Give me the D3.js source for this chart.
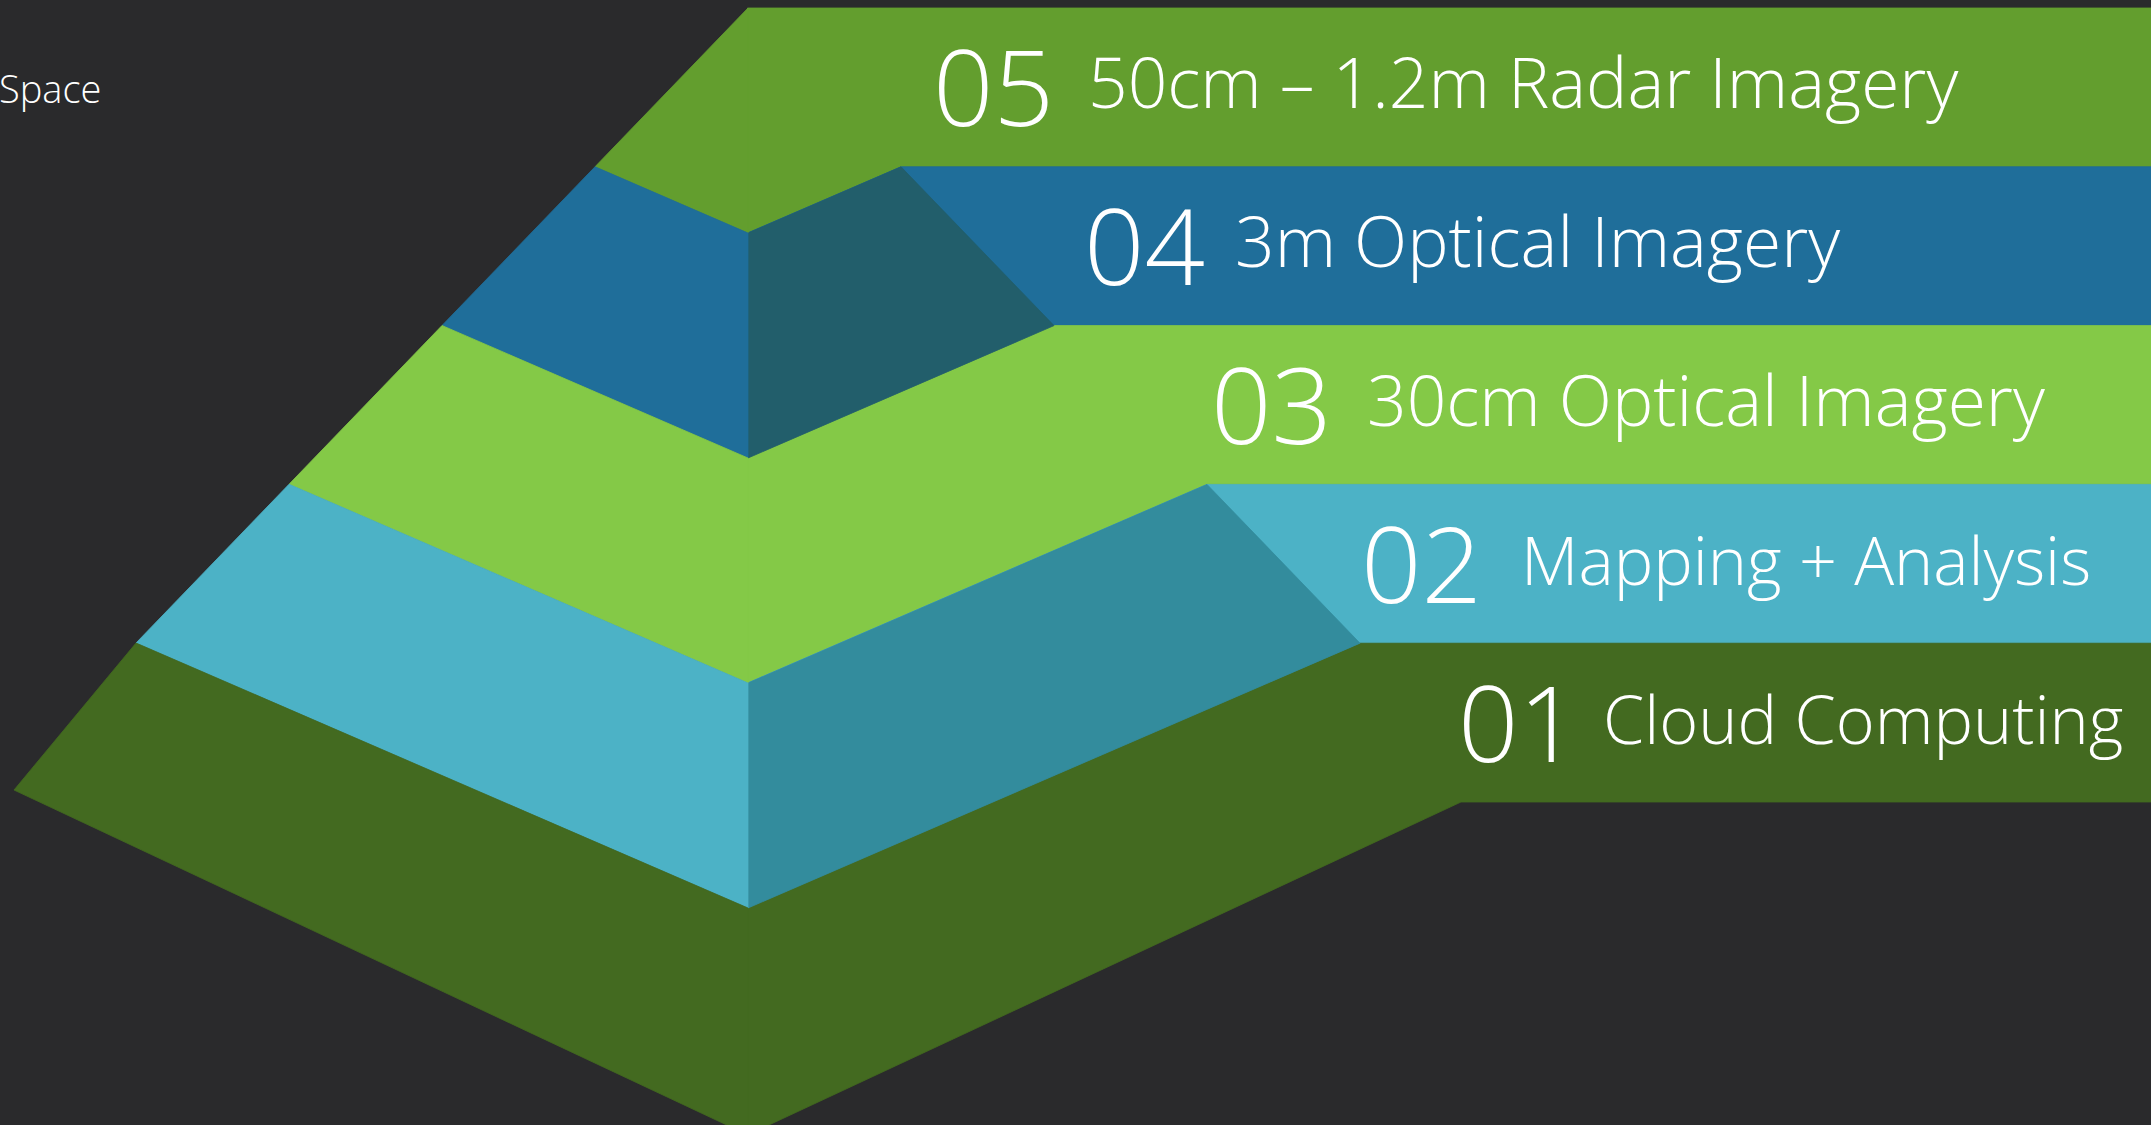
<!DOCTYPE html>
<html>
<head>
<meta charset="utf-8">
<script src="https://cdn.jsdelivr.net/npm/d3@7"></script>
<style>
html,body{margin:0;padding:0;background:#2a2a2c;overflow:hidden;}
svg{display:block;}
</style>
</head>
<body>
<svg id="chart"></svg>
<script>
// ---------- data ----------
const tierNumbers = ["05", "04", "03", "02", "01"];
const tierLabels = ["50cm – 1.2m Radar Imagery", "3m Optical Imagery", "30cm Optical Imagery", "Mapping + Analysis", "Cloud Computing"];
const sideTitle = "Space";

// ---------- styles ----------
const faceColors  = ["#639e2e", "#1f6e9a", "#84c947", "#4cb2c6", "#436a20"];
const shadeColors = ["#639e2e", "#225e6b", "#84c947", "#338c9d", "#436a20"];
const labelSizes  = [69.5, 69.5, 69.5, 66.5, 66.5];
const bgColor = "#2a2a2c";

// ---------- layout ----------
const W = 2151, H = 1125;
const cx = 748;
const numberInset = [32, 30, 4, 1, -3];
const labelInset  = [187, 181, 160, 161, 142];

const svg = d3.select("#chart").attr("width", W).attr("height", H);
svg.append("rect").attr("width", W).attr("height", H).attr("fill", bgColor);

const n = tierNumbers.length;
const bandY = d3.scaleLinear().domain([0, n]).range([8, 802]);
const leftHalf = d3.scaleLinear().domain([0, n - 1, n]).range([0, 612, 734]);
const rightHalf = d3.scaleLinear().domain([0, n - 1, n]).range([0, 612, 713]);
const leftY = d3.scaleLinear().domain([0, n - 1, n]).range([8, 643, 790]);
const depth = d3.scaleLinear().domain([0, n - 1, n]).range([0, 265, 345]);
const frontY = j => leftY(j) + depth(j);

const tiers = tierNumbers.map((num, i) => ({num, label: tierLabels[i], i}));
const line = d3.line();
const g = svg.append("g");

// band + right face as one shape in the band colour
g.selectAll("path.band").data(tiers).join("path")
  .attr("class", "band")
  .attr("d", d => line([
    [cx - 0.5, frontY(d.i)], [cx + rightHalf(d.i), bandY(d.i)], [W + 2, bandY(d.i)],
    [W + 2, bandY(d.i + 1)], [cx + rightHalf(d.i + 1), bandY(d.i + 1)], [cx - 0.5, frontY(d.i + 1)]
  ]) + "Z")
  .attr("fill", d => faceColors[d.i]).attr("stroke", d => faceColors[d.i]).attr("stroke-width", 0.8);

// shaded right faces where the shade differs
g.selectAll("path.right").data(tiers.filter(d => shadeColors[d.i] !== faceColors[d.i])).join("path")
  .attr("class", "right")
  .attr("d", d => line([
    [cx, frontY(d.i)], [cx + rightHalf(d.i), bandY(d.i)],
    [cx + rightHalf(d.i + 1), bandY(d.i + 1)], [cx, frontY(d.i + 1)]
  ]) + "Z")
  .attr("fill", d => shadeColors[d.i]).attr("stroke", d => shadeColors[d.i]).attr("stroke-width", 0.8);

// left faces
g.selectAll("path.left").data(tiers).join("path")
  .attr("class", "left")
  .attr("d", d => line([
    [cx - leftHalf(d.i), leftY(d.i)], [cx, frontY(d.i)],
    [cx, frontY(d.i + 1)], [cx - leftHalf(d.i + 1), leftY(d.i + 1)]
  ]) + "Z")
  .attr("fill", d => faceColors[d.i]).attr("stroke", d => faceColors[d.i]).attr("stroke-width", 0.8);

// numbers and labels
const font = "'Open Sans', 'Noto Sans', sans-serif";
const texts = svg.append("g").selectAll("g").data(tiers).join("g");
texts.append("text")
  .attr("x", d => cx + rightHalf(d.i + 1) + numberInset[d.i])
  .attr("y", d => (bandY(d.i) + bandY(d.i + 1)) / 2 + 39)
  .attr("fill", "#fff").attr("font-family", font).attr("font-weight", 300)
  .attr("font-size", 106).text(d => d.num);
texts.append("text")
  .attr("x", d => cx + rightHalf(d.i + 1) + labelInset[d.i])
  .attr("y", d => (bandY(d.i) + bandY(d.i + 1)) / 2 + 21)
  .attr("fill", "#fff").attr("font-family", font).attr("font-weight", 300)
  .attr("font-size", d => labelSizes[d.i]).text(d => d.label);

svg.append("text").attr("x", -1).attr("y", 103)
  .attr("fill", "#fff").attr("font-family", font).attr("font-weight", 300)
  .attr("font-size", 38).text(sideTitle);
</script>
</body>
</html>
